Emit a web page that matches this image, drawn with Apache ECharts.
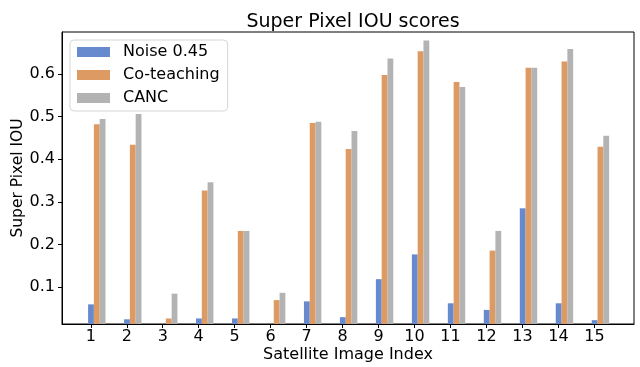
<!DOCTYPE html>
<html>
<head>
<meta charset="utf-8">
<script src="https://cdn.jsdelivr.net/npm/echarts@6/dist/echarts.min.js"></script>
<style>
  html, body { margin: 0; padding: 0; background: #fff; }
  #chart { width: 640px; height: 367px; }
</style>
</head>
<body>
<div id="chart"></div>
<script>
const imageIndex = [1, 2, 3, 4, 5, 6, 7, 8, 9, 10, 11, 12, 13, 14, 15]
const noise045 = [0.060, 0.025, 0.01, 0.027, 0.027, 0.01, 0.067, 0.030, 0.119, 0.177, 0.0625, 0.047, 0.285, 0.0625, 0.023]
const coTeaching = [0.482, 0.434, 0.027, 0.327, 0.232, 0.070, 0.485, 0.424, 0.597, 0.653, 0.581, 0.186, 0.614, 0.629, 0.429]
const canc = [0.494, 0.506, 0.085, 0.346, 0.232, 0.087, 0.488, 0.466, 0.636, 0.678, 0.569, 0.232, 0.614, 0.658, 0.455]
const yTicks = [0.1, 0.2, 0.3, 0.4, 0.5, 0.6]

const font = 'DejaVu Sans'
const colors = ['#6789cd', '#dd9a62', '#b3b3b3']

// bars sit on a hidden axis shifted by one bar width, so the first bar of
// each group lands on the visible tick (matplotlib-style offsets)
const xMin = 0.2
const xMax = 16.1
const barShift = 0.167

const chart = echarts.init(document.getElementById('chart'))

function barSeries(name, values) {
  return {
    name,
    type: 'bar',
    xAxisIndex: 1,
    barWidth: 5.8,
    barGap: '0%',
    data: values.map((v, i) => [imageIndex[i], v]),
  }
}

chart.setOption({
  animation: false,
  color: colors,
  title: {
    text: 'Super Pixel IOU scores',
    left: 348,
    top: 8,
    textAlign: 'center',
    textStyle: { fontFamily: font, fontSize: 19, fontWeight: 'normal', color: '#000' },
  },
  legend: {
    orient: 'vertical',
    left: 70,
    top: 40,
    icon: 'rect',
    itemWidth: 33,
    itemHeight: 10,
    itemGap: 7,
    padding: [4, 8, 5, 7],
    borderColor: '#d6d6d6',
    borderWidth: 1,
    borderRadius: 4,
    backgroundColor: 'rgba(255,255,255,0.8)',
    textStyle: { fontFamily: font, fontSize: 16, color: '#000', padding: [0, 0, 0, 8] },
    data: ['Noise 0.45', 'Co-teaching', 'CANC'],
  },
  grid: {
    left: 62,
    right: 6,
    top: 32,
    bottom: 43,
    outerBoundsMode: 'none',
    show: true,
    borderColor: '#000',
    borderWidth: 1,
  },
  xAxis: [
    {
      type: 'value',
      min: xMin,
      max: xMax,
      name: 'Satellite Image Index',
      nameLocation: 'middle',
      nameGap: 23,
      nameMoveOverlap: false,
      nameTextStyle: { fontFamily: font, fontSize: 16, color: '#000' },
      axisLine: { lineStyle: { color: '#000', width: 1 } },
      axisTick: { customValues: imageIndex, length: 4, lineStyle: { color: '#000' } },
      axisLabel: { customValues: imageIndex, fontFamily: font, fontSize: 16, color: '#000', margin: 5 },
      splitLine: { show: false },
    },
    {
      type: 'value',
      show: false,
      min: xMin - barShift,
      max: xMax - barShift,
      splitLine: { show: false },
    },
  ],
  yAxis: {
    type: 'value',
    min: 0.014,
    max: 0.698,
    name: 'Super Pixel IOU',
    nameLocation: 'middle',
    nameGap: 36,
    nameMoveOverlap: false,
    nameRotate: 90,
    nameTextStyle: { fontFamily: font, fontSize: 15.5, color: '#000' },
    axisLine: { show: true, lineStyle: { color: '#000', width: 1 } },
    axisTick: { show: true, customValues: yTicks, length: 4, lineStyle: { color: '#000' } },
    axisLabel: {
      customValues: yTicks,
      fontFamily: font,
      fontSize: 16,
      color: '#000',
      margin: 7,
      formatter: (v) => v.toFixed(1),
    },
    splitLine: { show: false },
  },
  series: [
    barSeries('Noise 0.45', noise045),
    barSeries('Co-teaching', coTeaching),
    barSeries('CANC', canc),
  ],
})
</script>
</body>
</html>
